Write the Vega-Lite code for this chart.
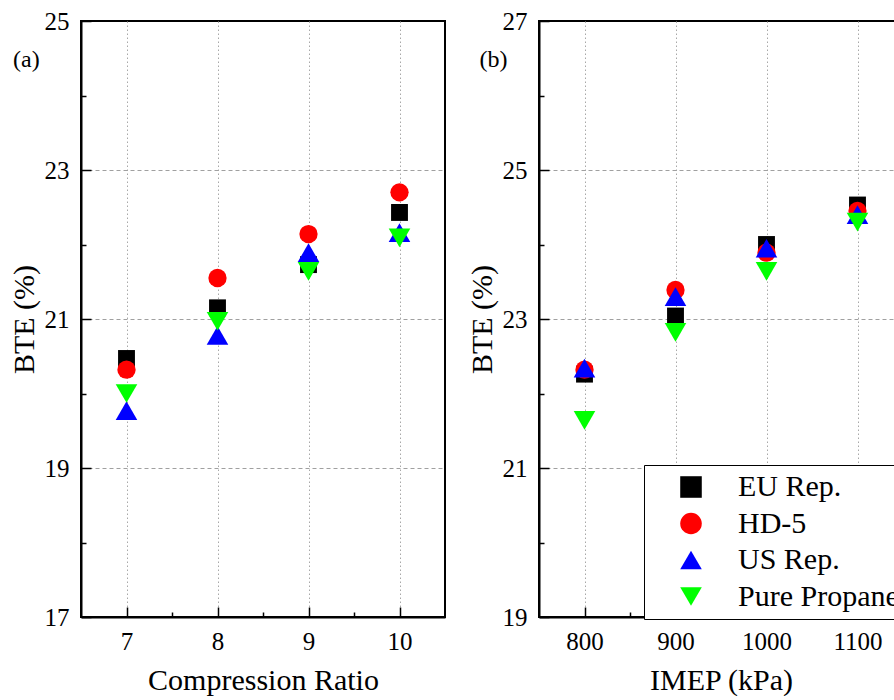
{
  "$schema": "https://vega.github.io/schema/vega-lite/v6.json",
  "padding": {"left": 8, "top": 8, "right": 0, "bottom": 0},
  "config": {
    "font": "Liberation Serif",
    "view": {"stroke": "black", "strokeWidth": 2},
    "axis": {
      "labelFont": "Liberation Serif",
      "labelFontSize": 25,
      "labelColor": "black",
      "titleFont": "Liberation Serif",
      "titleFontSize": 30,
      "titleFontWeight": "normal",
      "titleColor": "black",
      "domainColor": "black",
      "domainWidth": 2,
      "tickColor": "black",
      "tickWidth": 1.5,
      "labelPadding": 22,
      "labelOverlap": false,
      "labelFlush": false,
      "grid": true,
      "gridWidth": 1,
      "format": "d"
    },
    "concat": {"spacing": 20}
  },
  "datasets": {
    "a": [
      {"x": 7, "y": 20.47, "series": "EU Rep."},
      {"x": 8, "y": 21.15, "series": "EU Rep."},
      {"x": 9, "y": 21.73, "series": "EU Rep."},
      {"x": 10, "y": 22.43, "series": "EU Rep."},
      {"x": 7, "y": 20.32, "series": "HD-5"},
      {"x": 8, "y": 21.55, "series": "HD-5"},
      {"x": 9, "y": 22.14, "series": "HD-5"},
      {"x": 10, "y": 22.70, "series": "HD-5"},
      {"x": 7, "y": 19.77, "series": "US Rep."},
      {"x": 8, "y": 20.78, "series": "US Rep."},
      {"x": 9, "y": 21.89, "series": "US Rep."},
      {"x": 10, "y": 22.16, "series": "US Rep."},
      {"x": 7, "y": 20.00, "series": "Pure Propane"},
      {"x": 8, "y": 20.97, "series": "Pure Propane"},
      {"x": 9, "y": 21.64, "series": "Pure Propane"},
      {"x": 10, "y": 22.09, "series": "Pure Propane"}
    ],
    "b": [
      {"x": 800, "y": 22.26, "series": "EU Rep."},
      {"x": 900, "y": 23.04, "series": "EU Rep."},
      {"x": 1000, "y": 24.00, "series": "EU Rep."},
      {"x": 1100, "y": 24.53, "series": "EU Rep."},
      {"x": 800, "y": 22.32, "series": "HD-5"},
      {"x": 900, "y": 23.39, "series": "HD-5"},
      {"x": 1000, "y": 23.89, "series": "HD-5"},
      {"x": 1100, "y": 24.45, "series": "HD-5"},
      {"x": 800, "y": 22.34, "series": "US Rep."},
      {"x": 900, "y": 23.30, "series": "US Rep."},
      {"x": 1000, "y": 23.95, "series": "US Rep."},
      {"x": 1100, "y": 24.40, "series": "US Rep."},
      {"x": 800, "y": 21.64, "series": "Pure Propane"},
      {"x": 900, "y": 22.82, "series": "Pure Propane"},
      {"x": 1000, "y": 23.64, "series": "Pure Propane"},
      {"x": 1100, "y": 24.30, "series": "Pure Propane"}
    ],
    "la": [{"x": 5.9, "y": 24.48, "label": "(a)"}],
    "lb": [{"x": 700, "y": 26.48, "label": "(b)"}]
  },
  "resolve": {"legend": {"color": "independent", "shape": "independent"}},
  "hconcat": [
    {
      "width": 364,
      "height": 596,
      "encoding": {
        "x": {
          "field": "x", "type": "quantitative",
          "scale": {"domain": [6.5, 10.5], "nice": false, "zero": false},
          "axis": {
            "title": "Compression Ratio",
            "values": [7, 7.5, 8, 8.5, 9, 9.5, 10],
            "labelExpr": "datum.value % 1 === 0 ? datum.label : ''",
            "tickSize": {"condition": {"test": "datum.value % 1 === 0", "value": -10}, "value": -5},
            "gridOpacity": {"condition": {"test": "datum.value % 1 === 0", "value": 1}, "value": 0},
            "gridDash": [1.5, 2.5],
            "gridColor": "#a8a8a8",
            "titlePadding": 6
          }
        },
        "y": {
          "field": "y", "type": "quantitative",
          "scale": {"domain": [17, 25], "nice": false, "zero": false},
          "axis": {
            "title": "BTE (%)",
            "values": [17, 18, 19, 20, 21, 22, 23, 24, 25],
            "labelExpr": "datum.value % 2 === 1 ? datum.label : ''",
            "tickSize": {"condition": {"test": "datum.value % 2 === 1", "value": -10}, "value": -5},
            "gridOpacity": {"condition": {"test": "datum.value % 2 === 1 && datum.value > 17 && datum.value < 25", "value": 1}, "value": 0},
            "gridDash": [4, 3],
            "gridColor": "#a0a0a0",
            "titlePadding": 5
          }
        }
      },
      "layer": [
        {
          "data": {"name": "a"},
          "mark": {"type": "point", "filled": true, "opacity": 1},
          "encoding": {
            "color": {
              "field": "series", "type": "nominal",
              "scale": {"domain": ["EU Rep.", "HD-5", "US Rep.", "Pure Propane"], "range": ["#000000", "#ff0000", "#0000ff", "#00ff00"]},
              "legend": null
            },
            "shape": {
              "field": "series", "type": "nominal",
              "scale": {"domain": ["EU Rep.", "HD-5", "US Rep.", "Pure Propane"], "range": ["square", "circle", "triangle-up", "triangle-down"]},
              "legend": null
            },
            "size": {
              "condition": [
                {"test": "datum.series === 'EU Rep.'", "value": 285},
                {"test": "datum.series === 'HD-5'", "value": 335}
              ],
              "value": 465
            }
          }
        },
        {
          "data": {"name": "la"},
          "mark": {"type": "text", "fontSize": 24, "font": "Liberation Serif", "color": "black"},
          "encoding": {"text": {"field": "label"}}
        }
      ]
    },
    {
      "width": 364,
      "height": 596,
      "encoding": {
        "x": {
          "field": "x", "type": "quantitative",
          "scale": {"domain": [750, 1150], "nice": false, "zero": false},
          "axis": {
            "title": "IMEP (kPa)",
            "values": [800, 850, 900, 950, 1000, 1050, 1100],
            "labelExpr": "datum.value % 100 === 0 ? datum.label : ''",
            "tickSize": {"condition": {"test": "datum.value % 100 === 0", "value": -10}, "value": -5},
            "gridOpacity": {"condition": {"test": "datum.value % 100 === 0", "value": 1}, "value": 0},
            "gridDash": [1.5, 2.5],
            "gridColor": "#a8a8a8",
            "titlePadding": 6
          }
        },
        "y": {
          "field": "y", "type": "quantitative",
          "scale": {"domain": [19, 27], "nice": false, "zero": false},
          "axis": {
            "title": "BTE (%)",
            "values": [19, 20, 21, 22, 23, 24, 25, 26, 27],
            "labelExpr": "datum.value % 2 === 1 ? datum.label : ''",
            "tickSize": {"condition": {"test": "datum.value % 2 === 1", "value": -10}, "value": -5},
            "gridOpacity": {"condition": {"test": "datum.value % 2 === 1 && datum.value > 19 && datum.value < 27", "value": 1}, "value": 0},
            "gridDash": [4, 3],
            "gridColor": "#a0a0a0",
            "titlePadding": 5
          }
        }
      },
      "layer": [
        {
          "data": {"name": "b"},
          "mark": {"type": "point", "filled": true, "opacity": 1},
          "encoding": {
            "color": {
              "field": "series", "type": "nominal",
              "scale": {"domain": ["EU Rep.", "HD-5", "US Rep.", "Pure Propane"], "range": ["#000000", "#ff0000", "#0000ff", "#00ff00"]},
              "legend": {
                "orient": "none", "legendX": 105, "legendY": 444, "title": null,
                "padding": 7, "symbolOffset": 25, "labelOffset": 32, "rowPadding": 6.5,
                "labelFontSize": 30, "labelFont": "Liberation Serif", "labelColor": "black",
                "strokeColor": "black", "fillColor": "white", "symbolStrokeWidth": 0,
                "symbolSize": 465, "labelLimit": 400,
                "encode": {
                  "legend": {"update": {"strokeWidth": {"value": 1.5}}},
                  "symbols": {"update": {"size": {"signal": "datum.value === 'EU Rep.' ? 285 : datum.value === 'HD-5' ? 335 : 465"}}}
                }
              }
            },
            "shape": {
              "field": "series", "type": "nominal",
              "scale": {"domain": ["EU Rep.", "HD-5", "US Rep.", "Pure Propane"], "range": ["square", "circle", "triangle-up", "triangle-down"]},
              "legend": {
                "orient": "none", "legendX": 105, "legendY": 444, "title": null,
                "padding": 7, "symbolOffset": 25, "labelOffset": 32, "rowPadding": 6.5,
                "labelFontSize": 30, "labelFont": "Liberation Serif", "labelColor": "black",
                "strokeColor": "black", "fillColor": "white", "symbolStrokeWidth": 0,
                "symbolSize": 465, "labelLimit": 400,
                "encode": {
                  "legend": {"update": {"strokeWidth": {"value": 1.5}}},
                  "symbols": {"update": {"size": {"signal": "datum.value === 'EU Rep.' ? 285 : datum.value === 'HD-5' ? 335 : 465"}}}
                }
              }
            },
            "size": {
              "condition": [
                {"test": "datum.series === 'EU Rep.'", "value": 285},
                {"test": "datum.series === 'HD-5'", "value": 335}
              ],
              "value": 465
            }
          }
        },
        {
          "data": {"name": "lb"},
          "mark": {"type": "text", "fontSize": 24, "font": "Liberation Serif", "color": "black"},
          "encoding": {"text": {"field": "label"}}
        }
      ]
    }
  ]
}
